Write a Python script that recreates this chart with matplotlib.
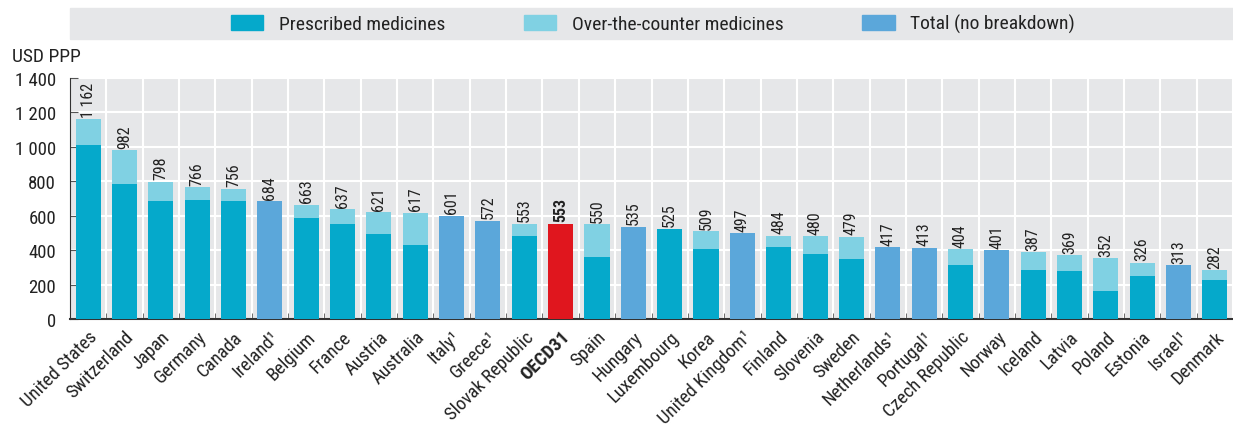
import numpy as np
import matplotlib.pyplot as plt
from matplotlib.patches import Patch, Rectangle

# ==================== 数据 ====================
countries = ["United States", "Switzerland", "Japan", "Germany", "Canada", "Ireland¹",
             "Belgium", "France", "Austria", "Australia", "Italy¹", "Greece¹",
             "Slovak Republic", "OECD31", "Spain", "Hungary", "Luxembourg", "Korea",
             "United Kingdom¹", "Finland", "Slovenia", "Sweden", "Netherlands¹",
             "Portugal¹", "Czech Republic", "Norway", "Iceland", "Latvia", "Poland",
             "Estonia", "Israel¹", "Denmark"]
totals = [1162, 982, 798, 766, 756, 684, 663, 637, 621, 617, 601, 572, 553, 553, 550,
          535, 525, 509, 497, 484, 480, 479, 417, 413, 404, 401, 387, 369, 352, 326,
          313, 282]
# prescribed part; None = no breakdown
prescribed = [1012, 783, 684, 689, 684, None, 585, 550, 491, 427, None, None, 480, None,
              363, None, 525, 404, None, 416, 375, 351, None, None, 311, None, 287,
              276, 165, 252, None, 229]
y_ticks = [0, 200, 400, 600, 800, 1000, 1200, 1400]

C_PRESC = "#05A9CB"
C_OTC   = "#80D1E3"
C_TOTAL = "#5BA7DA"
C_OECD  = "#E0161E"
BG      = "#E6E7E9"
TXT     = "#222222"

plt.rcParams["font.family"] = ["Roboto Condensed", "DejaVu Sans"]

fig = plt.figure(figsize=(12.33, 4.27), dpi=100)
ax = fig.add_axes([70 / 1233, 1 - 320 / 427, 1163 / 1233, 241 / 427])
ax.set_facecolor(BG)

x = np.arange(len(countries))
w = 0.69
for i, (name, tot, pr) in enumerate(zip(countries, totals, prescribed)):
    if name == "OECD31":
        ax.bar(i, tot, w, color=C_OECD, zorder=3)
    elif pr is None:
        ax.bar(i, tot, w, color=C_TOTAL, zorder=3)
    else:
        ax.bar(i, pr, w, color=C_PRESC, zorder=3)
        if tot > pr:
            ax.bar(i, tot - pr, w, bottom=pr, color=C_OTC, zorder=3)
    lab = f"{tot:,}".replace(",", " ")
    ax.text(i, tot + 14, lab, rotation=90, ha="center", va="bottom",
            fontsize=11.5, color=TXT,
            fontweight="bold" if name == "OECD31" else "normal")

ax.set_xlim(-0.5, len(countries) - 0.5)
ax.set_ylim(0, 1400)
ax.set_yticks(y_ticks)
ax.set_yticklabels([f"{v:,}".replace(",", " ") for v in y_ticks], fontsize=13.5, color=TXT)
ax.set_xticks(x)
ax.set_xticklabels(countries, rotation=45, ha="right", rotation_mode="anchor",
                   fontsize=13.5, color=TXT)
for t in ax.get_xticklabels():
    if t.get_text() == "OECD31":
        t.set_fontweight("bold")
ax.set_xticks(np.arange(len(countries) + 1) - 0.5, minor=True)
ax.tick_params(axis="x", which="major", length=0, pad=6)
ax.tick_params(axis="x", which="minor", direction="in", length=4, color="#555555")
ax.tick_params(axis="y", direction="in", length=6, color="#555555", pad=10)

ax.grid(True, axis="y", color="white", linewidth=1.5, zorder=1)
ax.grid(True, axis="x", which="minor", color="white", linewidth=1.5, zorder=1)
ax.set_axisbelow(True)

for s in ["top", "right"]:
    ax.spines[s].set_visible(False)
ax.spines["left"].set_color("#333333")
ax.spines["bottom"].set_color("#333333")
ax.spines["bottom"].set_linewidth(1.5)

fig.text(12 / 1233, 1 - 57 / 427, "USD PPP", fontsize=14, color=TXT, va="center")

# ==================== 图例 ====================
fig.patches.append(Rectangle((70 / 1233, 1 - 40 / 427), 1163 / 1233, 31 / 427,
                             transform=fig.transFigure, color=BG, zorder=0))
handles = [Patch(color=C_PRESC, label="Prescribed medicines"),
           Patch(color=C_OTC, label="Over-the-counter medicines"),
           Patch(color=C_TOTAL, label="Total (no breakdown)")]
fig.legend(handles=handles, loc="center", bbox_to_anchor=(653 / 1233, 1 - 24.5 / 427),
           ncol=3, frameon=False, fontsize=14, handlelength=1.65, handleheight=0.82,
           handletextpad=0.82, columnspacing=4.05, labelcolor=TXT)

plt.savefig("out.png", dpi=100)
